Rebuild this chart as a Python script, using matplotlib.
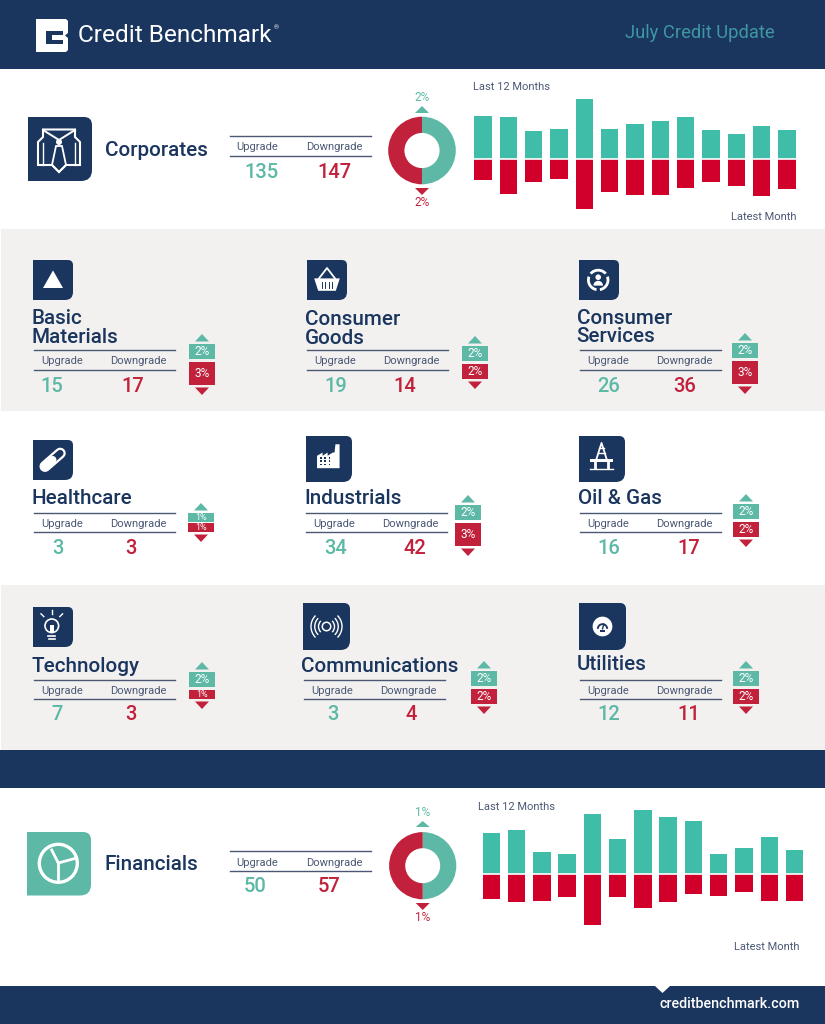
import matplotlib
matplotlib.use('Agg')
import matplotlib.pyplot as plt
from matplotlib.patches import Rectangle, Polygon, Circle, PathPatch, Wedge, Arc
from matplotlib.path import Path

plt.rcParams['font.family'] = ['Roboto', 'DejaVu Sans']

NAVY = '#1a355e'
TEAL = '#5db9a6'
RED = '#c2213b'
BAR_TEAL = '#40bda9'
BAR_RED = '#d0002a'
GREY = '#f2f1f0'
LABEL = '#4b5875'

# the two big blocks
corp_up = [203, 200, 130, 143, 284, 143, 164, 178, 200, 135, 118, 156, 135]
corp_down = [103, 168, 111, 98, 240, 159, 172, 172, 141, 111, 132, 181, 147]
fin_up = [86, 91, 46, 42, 126, 73, 134, 118, 110, 42, 54, 77, 50]
fin_down = [54, 61, 57, 50, 108, 49, 72, 61, 43, 47, 38, 57, 57]

# sectors
names = ['Basic\nMaterials', 'Consumer\nGoods', 'Consumer\nServices', 'Healthcare', 'Industrials',
         'Oil & Gas', 'Technology', 'Communications', 'Utilities']
upgrades = [15, 19, 26, 3, 34, 16, 7, 3, 12]
downgrades = [17, 14, 36, 3, 42, 17, 3, 4, 11]
pct_up = [2, 2, 2, 1, 2, 2, 2, 2, 2]
pct_down = [3, 2, 3, 1, 3, 2, 1, 2, 2]

# layout of each sector cell, in pixels
icon_box = [(33, 260, 40), (307, 260, 40), (579, 260, 40), (33, 440, 40), (306, 436, 46),
            (579, 436, 46), (33, 607, 40), (303, 603, 47), (579, 603, 47)]
title_xy = [(31.5, 328), (304.5, 329), (576.5, 327.5), (31.5, 498), (304.5, 499), (577.5, 498),
            (31.5, 666), (301.5, 666), (576.5, 665)]
rule_x = [34, 307, 580, 34, 306, 580, 34, 304, 580]
rule_y = [350, 350, 350, 513, 513, 513, 680, 680, 680]
num_x = [(52, 133), (336, 405), (609, 685), (58, 131), (336, 415), (609, 689),
         (57, 131), (333, 411), (609, 689)]
ind_x = [202, 475, 745, 201, 468, 746, 202, 484, 746]
ind_top = [344, 346, 343, 513, 505, 504, 672, 671, 671]
box_h = {1: 9, 2: 15, 3: 23}

fig = plt.figure(figsize=(8.25, 10.24), dpi=100)
ax = fig.add_axes([0, 0, 1, 1])
ax.set_xlim(0, 825)
ax.set_ylim(1024, 0)
ax.axis('off')


def px_axes(x0, y0, x1, y1):
    a = fig.add_axes([x0 / 825, 1 - y1 / 1024, (x1 - x0) / 825, (y1 - y0) / 1024])
    a.axis('off')
    return a


def tile(x, y, w, h, color, r1=None, r2=None):
    # square on the left, rounded on the right
    r1 = w * 0.14 if r1 is None else r1
    r2 = w * 0.22 if r2 is None else r2
    verts = [(x, y), (x + w - r1, y), (x + w, y), (x + w, y + r1), (x + w, y + h - r2),
             (x + w, y + h), (x + w - r2, y + h), (x, y + h), (x, y)]
    codes = [Path.MOVETO, Path.LINETO, Path.CURVE3, Path.CURVE3, Path.LINETO,
             Path.CURVE3, Path.CURVE3, Path.LINETO, Path.CLOSEPOLY]
    ax.add_patch(PathPatch(Path(verts, codes), facecolor=color, edgecolor='none'))


def tri(cx, y0, y1, hw, color):
    ax.add_patch(Polygon([(cx - hw, y1), (cx + hw, y1), (cx, y0)], closed=True, facecolor=color, edgecolor='none'))


def icon_triangle(x, y, s):
    tri(x + s * 0.5, y + s * 0.26, y + s * 0.7, s * 0.25, 'white')


def icon_basket(x, y, s):
    ax.add_patch(Polygon([(x + s * .18, y + s * .46), (x + s * .82, y + s * .46), (x + s * .72, y + s * .77),
                          (x + s * .28, y + s * .77)], facecolor='white', edgecolor='none'))
    ax.plot([x + s * .3, x + s * .5, x + s * .7], [y + s * .46, y + s * .2, y + s * .46], color='white', lw=1.3)
    for k in range(4):
        xx = x + s * (.38 + k * .08)
        ax.plot([xx, xx], [y + s * .55, y + s * .7], color=NAVY, lw=.7)


def icon_services(x, y, s):
    cx, cy = x + s * .48, y + s * .5
    for a in (100, 220, 340):
        ax.add_patch(Wedge((cx, cy), s * .28, a, a + 100, width=s * .07, facecolor='white', edgecolor='none'))
    ax.add_patch(Circle((cx, cy - s * .07), s * .07, facecolor='white', edgecolor='none'))
    ax.add_patch(Wedge((cx, cy + s * .14), s * .12, 180, 360, facecolor='white', edgecolor='none'))


def icon_pill(x, y, s):
    x0, y0, x1, y1 = x + s * .3, y + s * .66, x + s * .68, y + s * .33
    ax.plot([x0, x1], [y0, y1], color='white', lw=s * .2, solid_capstyle='round')
    ax.plot([x0, x1], [y0, y1], color=NAVY, lw=s * .12, solid_capstyle='round')
    ax.plot([x0, (x0 + x1) / 2], [y0, (y0 + y1) / 2], color='white', lw=s * .14, solid_capstyle='round')


def icon_factory(x, y, s):
    pts = [(.24, .7), (.24, .43), (.36, .36), (.36, .43), (.47, .36), (.47, .43), (.58, .36), (.62, .36),
           (.64, .18), (.73, .18), (.73, .7)]
    ax.add_patch(Polygon([(x + s * a, y + s * b) for a, b in pts], facecolor='white', edgecolor='none'))
    for i in range(3):
        for j in range(3):
            ax.add_patch(Rectangle((x + s * (.31 + i * .09), y + s * (.46 + j * .07)), s * .04, s * .04,
                                   facecolor=NAVY, edgecolor='none'))


def icon_rig(x, y, s):
    c = x + s * .49
    ax.plot([c - s * .11, c, c + s * .11], [y + s * .5, y + s * .15, y + s * .5], color='white', lw=1.3)
    ax.plot([c - s * .07, c + s * .07], [y + s * .36, y + s * .36], color='white', lw=1)
    ax.plot([c - s * .05, c + s * .05], [y + s * .26, y + s * .26], color='white', lw=1)
    ax.add_patch(Rectangle((c - s * .25, y + s * .5), s * .5, s * .07, facecolor='white', edgecolor='none'))
    ax.plot([c - s * .15, c - s * .15], [y + s * .57, y + s * .7], color='white', lw=2)
    ax.plot([c + s * .15, c + s * .15], [y + s * .57, y + s * .7], color='white', lw=2)
    ax.plot([c - s * .25, c + s * .25], [y + s * .72, y + s * .72], color='white', lw=1)


def icon_bulb(x, y, s):
    c = x + s * .47
    ax.add_patch(Circle((c, y + s * .47), s * .17, facecolor='none', edgecolor='white', lw=1.2))
    ax.plot([c - s * .09, c + s * .09], [y + s * .72, y + s * .72], color='white', lw=1.2)
    ax.plot([c - s * .08, c + s * .08], [y + s * .8, y + s * .8], color='white', lw=1.2)
    ax.plot([c, c], [y + s * .08, y + s * .17], color='white', lw=1)
    ax.plot([c - s * .27, c - s * .2], [y + s * .17, y + s * .24], color='white', lw=1)
    ax.plot([c + s * .27, c + s * .2], [y + s * .17, y + s * .24], color='white', lw=1)
    ax.add_patch(Rectangle((c - s * .05, y + s * .44), s * .1, s * .22, facecolor='white', edgecolor='none'))


def icon_waves(x, y, s):
    cx, cy = x + s * .5, y + s * .5
    ax.add_patch(Circle((cx, cy), s * .09, facecolor='none', edgecolor='white', lw=1.1))
    for r in (.17, .25, .33):
        d = 2 * r * s
        ax.add_patch(Arc((cx, cy), d, d, theta1=-45, theta2=45, color='white', lw=1))
        ax.add_patch(Arc((cx, cy), d, d, theta1=135, theta2=225, color='white', lw=1))


def icon_util(x, y, s):
    cx, cy = x + s * .5, y + s * .5
    ax.add_patch(Circle((cx, cy), s * .21, facecolor='white', edgecolor='none'))
    # y axis is flipped here, so 180-360 is the upper half on screen
    ax.add_patch(Wedge((cx, cy + s * .05), s * .12, 180, 360, width=s * .04, facecolor=NAVY, edgecolor='none'))
    ax.plot([cx, cx + s * .03], [cy + s * .05, cy - s * .05], color=NAVY, lw=1)
    ax.add_patch(Rectangle((cx - s * .06, cy + s * .08), s * .12, s * .04, facecolor=NAVY, edgecolor='none'))


icon_funcs = [icon_triangle, icon_basket, icon_services, icon_pill, icon_factory, icon_rig,
              icon_bulb, icon_waves, icon_util]

# bands
ax.add_patch(Rectangle((0, 0), 825, 68.5, facecolor=NAVY, edgecolor='none'))
ax.add_patch(Rectangle((1, 229), 824, 182, facecolor=GREY, edgecolor='none'))
ax.add_patch(Rectangle((1, 585), 824, 164.5, facecolor=GREY, edgecolor='none'))
ax.add_patch(Rectangle((0, 749.5), 825, 38, facecolor=NAVY, edgecolor='none'))
ax.add_patch(Rectangle((0, 986), 825, 38, facecolor=NAVY, edgecolor='none'))
ax.add_patch(Polygon([(655, 986), (670, 986), (662.5, 993)], facecolor='white', edgecolor='none'))

# header
ax.add_patch(Polygon([(36, 19), (66, 19), (68, 21), (68, 33), (65, 35.5), (68, 38), (68, 50), (66, 52), (36, 52)],
                     facecolor='white', edgecolor='none'))
ax.add_patch(Polygon([(46, 30.5), (63, 30.5), (63, 35), (52, 35), (52, 39.5), (63, 39.5), (63, 44), (46, 44)],
                     facecolor=NAVY, edgecolor='none'))
ax.text(78, 36, 'Credit Benchmark', color='white', fontsize=17.6, va='center', ha='left')
ax.text(274, 28, '®', color='white', fontsize=4.5, va='center', ha='left')
ax.text(775, 33.5, 'July Credit Update', color='#3f97a2', fontsize=13.2, va='center', ha='right')
ax.text(800, 1004, 'creditbenchmark.com', color='white', fontsize=10.3, va='center', ha='right', fontweight='medium')


def rule_block(x, y, y2, up, down, ux, dx, nx, ny, nsize=14.5):
    ax.plot([x, x + 141], [y, y], color=LABEL, lw=1)
    ax.plot([x, x + 141], [y2, y2], color=LABEL, lw=1)
    ax.text(ux, (y + y2) / 2 + 1.5, 'Upgrade', color=LABEL, fontsize=8, ha='center', va='center')
    ax.text(dx, (y + y2) / 2 + 1.5, 'Downgrade', color=LABEL, fontsize=8, ha='center', va='center')
    ax.text(nx[0], ny, str(up), color=TEAL, fontsize=nsize, ha='center', va='center', fontweight='medium')
    ax.text(nx[1], ny, str(down), color=RED, fontsize=nsize, ha='center', va='center', fontweight='medium')


def donut(cx, cy, r, up, down, y_up, y_down, label_up, label_down):
    a = px_axes(cx - r, cy - r, cx + r, cy + r)
    a.pie([up, down], colors=[TEAL, RED], startangle=90, counterclock=False, radius=1,
          wedgeprops=dict(width=0.48, edgecolor='none'))
    a.set_xlim(-1, 1)
    a.set_ylim(-1, 1)
    tri(cx, y_up[0], y_up[1], 7, TEAL)
    tri(cx, y_down[1], y_down[0], 7, RED)
    ax.text(cx, y_up[2], label_up, color=TEAL, fontsize=8.5, ha='center', va='center')
    ax.text(cx, y_down[2], label_down, color=RED, fontsize=8.5, ha='center', va='center')


def month_bars(first, last, base, top, bottom, scale, ups, downs):
    step = (last - first) / (len(ups) - 1)
    a = px_axes(first - step / 2, top, last + step / 2, bottom)
    xs = range(len(ups))
    a.bar(xs, ups, width=0.69, color=BAR_TEAL)
    a.bar(xs, [-v for v in downs], width=0.69, color=BAR_RED)
    a.axhline(0, color='white', lw=1.2)
    a.set_xlim(-0.5, len(ups) - 0.5)
    a.set_ylim(-(bottom - base) / scale, (base - top) / scale)
    a.axis('off')


# corporates
tile(28, 117, 64, 64, NAVY, 8, 11)
ax.add_patch(Polygon([(38, 142), (43, 137), (43, 129.5), (75, 129.5), (75, 137), (80, 142), (80, 165), (66, 165),
                      (59, 172), (52, 165), (38, 165)], facecolor='none', edgecolor='white', lw=1.5))
ax.plot([43, 59, 75], [130, 140, 130], color='white', lw=1.4)
ax.plot([43, 43], [143, 165], color='white', lw=1)
ax.plot([75, 75], [143, 165], color='white', lw=1)
ax.add_patch(Polygon([(56, 146), (62, 146), (66, 165), (59, 172), (52, 165)], facecolor='none', edgecolor='white', lw=1.3))
ax.add_patch(Circle((59, 142), 3, facecolor='white', edgecolor='none'))
ax.text(105, 150, 'Corporates', color=NAVY, fontsize=14.9, ha='left', va='center', fontweight='medium')
rule_block(230, 136, 156, 135, 147, 257.5, 334, (261, 334.5), 172)
donut(422, 150.5, 33.8, 2, 2, (106, 113, 97.5), (188, 195, 202.5), '2%', '2%')
month_bars(483, 787, 158.5, 95, 213, 0.2096, corp_up, corp_down)
ax.text(473, 86.5, 'Last 12 Months', color=LABEL, fontsize=8, ha='left', va='center')
ax.text(796.5, 216.5, 'Latest Month', color=LABEL, fontsize=8, ha='right', va='center')

# financials
tile(27, 832, 64, 63.5, TEAL, 8, 11)
ax.add_patch(Circle((58.3, 863.3), 19, facecolor='none', edgecolor='white', lw=2.4))
ax.plot([58.3, 51.7], [863, 850], color='white', lw=2)
ax.plot([58.3, 76.7], [863, 858], color='white', lw=2)
ax.plot([58.3, 58.3], [863, 881], color='white', lw=2)
ax.text(105, 864, 'Financials', color=NAVY, fontsize=14.9, ha='left', va='center', fontweight='medium')
rule_block(230, 851, 871, 50, 57, 257.5, 334, (255, 329.5), 886)
donut(422.7, 865.7, 33.6, 1, 1, (821, 827, 812.5), (903, 910, 917.5), '1%', '1%')
month_bars(491.3, 794.5, 873.5, 805, 935, 0.475, fin_up, fin_down)
ax.text(478, 807, 'Last 12 Months', color=LABEL, fontsize=8, ha='left', va='center')
ax.text(800, 947.5, 'Latest Month', color=LABEL, fontsize=8, ha='right', va='center')

# sector cells
for i, name in enumerate(names):
    ix, iy, s = icon_box[i]
    tile(ix, iy, s, s, NAVY, s * .13, s * .2)
    icon_funcs[i](ix, iy, s)
    tx, ty = title_xy[i]
    ax.text(tx, ty, name, color=NAVY, fontsize=14.9, ha='left', va='center', fontweight='medium', linespacing=0.95)
    rx, ry = rule_x[i], rule_y[i]
    ry2 = ry + (20 if ry == 350 else 19)
    rule_block(rx, ry, ry2, upgrades[i], downgrades[i], rx + 28, rx + 104, num_x[i], ry2 + 16)

    cx, top = ind_x[i], ind_top[i]
    hu, hd = box_h[pct_up[i]], box_h[pct_down[i]]
    ax.add_patch(Rectangle((cx - 13, top), 26, hu, facecolor=TEAL, edgecolor='none'))
    ax.text(cx, top + hu / 2, '%d%%' % pct_up[i], color='white', fontsize=8.5 if hu > 9 else 6.5, ha='center', va='center')
    ytop = top + hu + (3 if hu > 9 else 1)
    ax.add_patch(Rectangle((cx - 13, ytop), 26, hd, facecolor=RED, edgecolor='none'))
    ax.text(cx, ytop + hd / 2, '%d%%' % pct_down[i], color='white', fontsize=8.5 if hd > 9 else 6.5, ha='center', va='center')
    tri(cx, top - 10, top - 2.5, 7, TEAL)
    tri(cx, ytop + hd + 10, ytop + hd + 2.5, 7, RED)

fig.savefig('out.png', dpi=100)
